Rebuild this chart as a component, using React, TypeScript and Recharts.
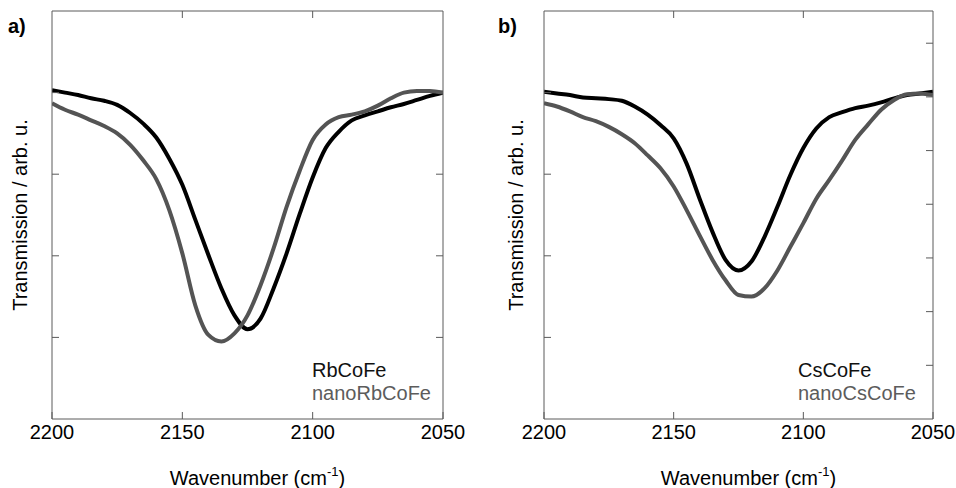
import React from "react";
import { LineChart, Line, XAxis, YAxis, Legend } from "recharts";

// wavenumber grid (cm-1), shared by both panels
const wavenumber = [
  2200, 2195, 2190, 2185, 2180, 2175, 2170, 2165, 2160, 2155, 2150, 2145, 2140, 2135, 2130, 2125,
  2120, 2115, 2110, 2105, 2100, 2095, 2090, 2085, 2080, 2075, 2070, 2065, 2060, 2055, 2050,
];

// panel a
const rbCoFe = [
  4.03, 4.0, 3.97, 3.93, 3.9, 3.85, 3.75, 3.62, 3.45, 3.19, 2.87, 2.44, 2.01, 1.6, 1.27, 1.1,
  1.23, 1.6, 2.03, 2.51, 2.96, 3.32, 3.52, 3.66, 3.72, 3.77, 3.82, 3.86, 3.91, 3.96, 4.0,
];
const nanoRbCoFe = [
  3.87, 3.79, 3.73, 3.66, 3.59, 3.5, 3.36, 3.17, 2.94, 2.56, 2.03, 1.39, 1.03, 0.95, 1.05, 1.27,
  1.64, 2.09, 2.6, 3.04, 3.42, 3.61, 3.7, 3.73, 3.77, 3.84, 3.93, 4.0, 4.02, 4.02, 4.0,
];

// panel b
const csCoFe = [
  4.01, 3.99, 3.97, 3.94, 3.93, 3.92, 3.9, 3.83, 3.73, 3.6, 3.44, 3.13, 2.7, 2.29, 1.95, 1.82,
  1.93, 2.23, 2.6, 2.99, 3.32, 3.56, 3.7, 3.76, 3.81, 3.84, 3.88, 3.93, 3.97, 3.99, 4.01,
];
const nanoCsCoFe = [
  3.87, 3.83, 3.77, 3.7, 3.65, 3.58, 3.49, 3.38, 3.23, 3.07, 2.85, 2.56, 2.25, 1.95, 1.7, 1.52,
  1.5, 1.6, 1.82, 2.11, 2.4, 2.7, 2.93, 3.17, 3.42, 3.61, 3.79, 3.91, 3.98, 3.99, 3.97,
];

const xTicks = [2200, 2150, 2100, 2050];
const innerXTicks = [2150, 2100];
const leftTicks = [1, 2, 3, 4];
const rightTicksB = [1, 2, 3, 4, 5, 6, 7];

const FONT = "'Liberation Sans', Arial, sans-serif";
const AXIS = "#5a5a5a";
const BLACK = "#000000";
const GREY = "#545454";

const XTitle = (props: any) => {
  const vb = props.viewBox || {};
  const cx = vb.x + vb.width / 2 + 10;
  return (
    <text x={cx} y={vb.y + 66} textAnchor="middle" fontSize={20} fontFamily={FONT} fill="#000">
      Wavenumber (cm
      <tspan fontSize={13} dy={-9}>-1</tspan>
      <tspan dy={9}>)</tspan>
    </text>
  );
};

const LegendBox = ({ payload }: any) => (
  <div style={{ fontFamily: FONT, fontSize: 20, lineHeight: "23px" }}>
    {(payload || []).map((p: any) => (
      <div key={p.value} style={{ color: p.color === BLACK ? "#111" : "#5c5c5c" }}>{p.value}</div>
    ))}
  </div>
);

function Panel({ a, b, nameA, nameB, width, rightDomain, rightTicks, titleDx, legendLeft }: any) {
  const rows = wavenumber.map((wn, i) => ({ wn, s1: a[i], s2: b[i] }));
  return (
    <LineChart width={width} height={488} data={rows} margin={{ top: 10, right: width === 480 ? 36 : 22, bottom: 0, left: 0 }}>
      <XAxis xAxisId="bottom" dataKey="wn" type="number" domain={[2050, 2200]} reversed allowDataOverflow
        ticks={xTicks} height={69} tickSize={-7} tickMargin={13} interval={0}
        stroke={AXIS} tick={{ fontSize: 20, fill: "#000", fontFamily: FONT }}
        label={<XTitle />} />
      <XAxis xAxisId="top" orientation="top" dataKey="wn" type="number" domain={[2050, 2200]} reversed allowDataOverflow
        ticks={innerXTicks} height={1} tickSize={-7} tickFormatter={() => ""} stroke={AXIS} />
      <YAxis yAxisId="left" type="number" domain={[0, 5]} allowDataOverflow ticks={leftTicks} width={54 - (width === 480 ? 2 : 0)}
        tickSize={-7} tickFormatter={() => ""} stroke={AXIS}
        label={{ value: "Transmission / arb. u.", angle: -90, position: "center", dx: titleDx,
          style: { fontSize: 20, fill: "#000", fontFamily: FONT } }} />
      <YAxis yAxisId="right" orientation="right" type="number" domain={rightDomain} allowDataOverflow ticks={rightTicks}
        width={1} tickSize={-7} tickFormatter={() => ""} stroke={AXIS} />
      <Legend layout="horizontal" verticalAlign="middle" align="center" content={<LegendBox />}
        wrapperStyle={{ left: legendLeft, top: 359, width: 160 }} />
      <Line xAxisId="bottom" yAxisId="left" dataKey="s1" name={nameA} type="monotone" stroke={BLACK}
        strokeWidth={4} dot={false} isAnimationActive={false} />
      <Line xAxisId="bottom" yAxisId="left" dataKey="s2" name={nameB} type="monotone" stroke={GREY}
        strokeWidth={4} dot={false} isAnimationActive={false} />
    </LineChart>
  );
}

export default function App() {
  const tag: React.CSSProperties = { position: "absolute", top: 16, fontFamily: FONT, fontSize: 20, fontWeight: 700, lineHeight: "20px" };
  return (
    <div style={{ position: "absolute", left: 0, top: 0, width: 956, height: 488, background: "#fff", overflow: "hidden" }}>
      <div style={{ position: "absolute", left: 0, top: 0 }}>
        <Panel a={rbCoFe} b={nanoRbCoFe} nameA="RbCoFe" nameB="nanoRbCoFe" width={480}
          rightDomain={[0, 5]} rightTicks={leftTicks} titleDx={-6} legendLeft={312} />
      </div>
      <div style={{ position: "absolute", left: 490, top: 0 }}>
        <Panel a={csCoFe} b={nanoCsCoFe} nameA="CsCoFe" nameB="nanoCsCoFe" width={466}
          rightDomain={[0, 7.6]} rightTicks={rightTicksB} titleDx={-1.5} legendLeft={308} />
      </div>
      <div style={{ ...tag, left: 8 }}>a)</div>
      <div style={{ ...tag, left: 498 }}>b)</div>
    </div>
  );
}
